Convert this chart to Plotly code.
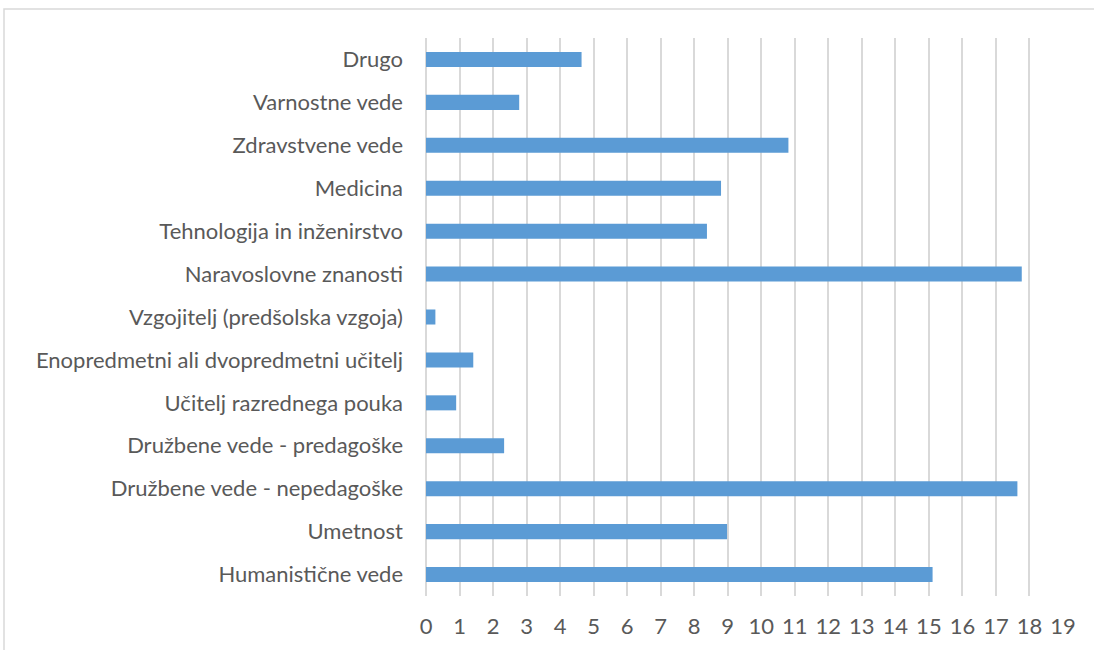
import plotly.graph_objects as go

categories = [
    "Drugo",
    "Varnostne vede",
    "Zdravstvene vede",
    "Medicina",
    "Tehnologija in inženirstvo",
    "Naravoslovne znanosti",
    "Vzgojitelj (predšolska vzgoja)",
    "Enopredmetni ali dvopredmetni učitelj",
    "Učitelj razrednega pouka",
    "Družbene vede - predagoške",
    "Družbene vede - nepedagoške",
    "Umetnost",
    "Humanistične vede",
]
values = [4.64, 2.78, 10.81, 8.80, 8.38, 17.77, 0.28, 1.41, 0.90, 2.33, 17.64, 8.98, 15.11]
x_ticks = list(range(0, 20))

fig = go.Figure(go.Bar(
    y=categories, x=values, orientation="h",
    marker=dict(color="#5B9BD5", line=dict(color="#5B9BD5", width=0)),
))

W, H = 1094, 650
ml, mr, mt, mb = 426, 31, 38, 54
pw, ph = W - ml - mr, H - mt - mb

fig.update_layout(
    width=W, height=H,
    margin=dict(l=ml, r=mr, t=mt, b=mb, pad=0),
    paper_bgcolor="white", plot_bgcolor="white",
    bargap=0.65,
    showlegend=False,
    font=dict(family="Lato, Carlito, 'Liberation Sans', sans-serif", size=22, color="#595959"),
    xaxis=dict(
        range=[0, 19], tickvals=x_ticks, ticktext=[str(t) for t in x_ticks],
        showgrid=True, gridcolor="#D9D9D9", gridwidth=1.5,
        zeroline=True, zerolinecolor="#D9D9D9", zerolinewidth=1.5,
        showline=False, ticks="", ticklabelstandoff=15,
        fixedrange=True,
    ),
    yaxis=dict(
        autorange="reversed", showgrid=False, showline=False, ticks="",
        ticklabelstandoff=22, zeroline=False,
    ),
    shapes=[dict(
        type="rect", xref="paper", yref="paper",
        x0=(4 - ml) / pw, x1=1.2,
        y0=-0.3, y1=(H - mb - 9) / ph,
        line=dict(color="#D9D9D9", width=1.5), layer="below",
    )],
)

fig.write_html(
    "out.html",
    config={"displayModeBar": False},
    post_script="document.body.style.margin='0';document.body.style.overflow='hidden';",
)
